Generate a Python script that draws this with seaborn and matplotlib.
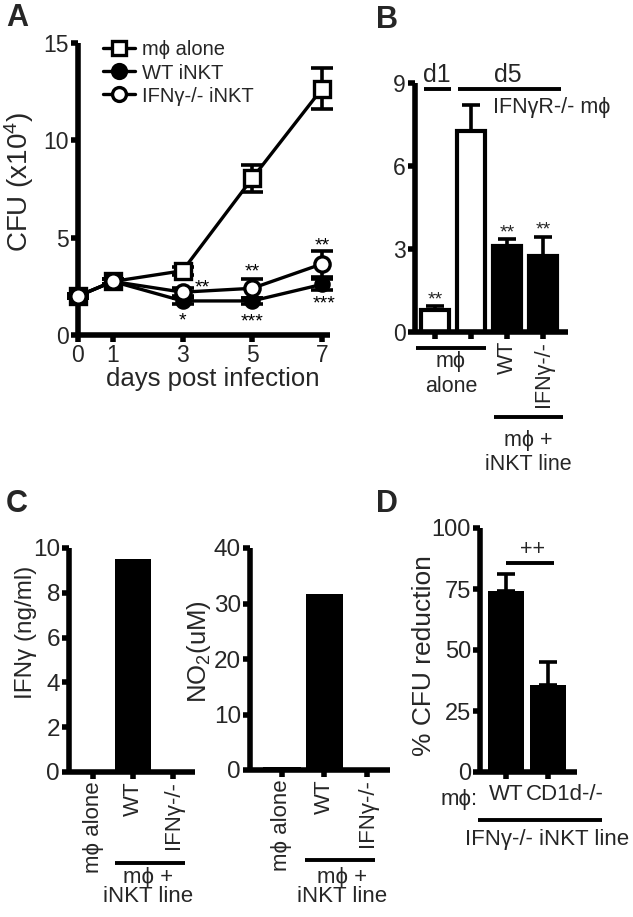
import numpy as np
import pandas as pd
import matplotlib
matplotlib.use("Agg")
import matplotlib.pyplot as plt
import seaborn as sns
from matplotlib.lines import Line2D
from matplotlib.transforms import ScaledTranslation

# ---------------- data ----------------
# Panel A
days = [0, 1, 3, 5, 7]
mphi_alone = [2.0, 2.75, 3.3, 8.05, 12.65]
mphi_alone_err = [0.1, 0.15, 0.2, 0.7, 1.05]
wt_inkt = [2.0, 2.75, 1.75, 1.75, 2.6]
wt_inkt_err = [0.1, 0.15, 0.15, 0.15, 0.3]
ifng_inkt = [2.0, 2.75, 2.2, 2.4, 3.65]
ifng_inkt_err = [0.1, 0.15, 0.2, 0.5, 0.65]
a_series = ["mϕ alone", "WT iNKT", "IFNγ-/- iNKT"]

# Panel B
b_cats = ["d1 mϕ alone", "d5 mϕ alone", "WT", "IFNγ-/-"]
b_vals = [0.8, 7.25, 3.1, 2.75]
b_err = [0.15, 0.95, 0.25, 0.68]
b_ticklabels = ["", "", "WT", "IFNγ-/-"]
b_yticks = [0, 3, 6, 9]

# Panel C
c_cats = ["mϕ alone", "WT", "IFNγ-/-"]
ifng_vals = [0.0, 9.5, 0.0]
no2_vals = [0.5, 31.8, 0.3]
c1_yticks = [0, 2, 4, 6, 8, 10]
c2_yticks = [0, 10, 20, 30, 40]

# Panel D
d_cats = ["WT", "CD1d-/-"]
d_vals = [74.0, 35.5]
d_err = [7.0, 9.5]
d_yticks = [0, 25, 50, 75, 100]

# ---------------- style ----------------
sns.set_style("ticks")
plt.rcParams["font.family"] = ["Liberation Sans", "DejaVu Sans"]
plt.rcParams["mathtext.default"] = "regular"

W, H = 633, 917
fig = plt.figure(figsize=(W / 100, H / 100), dpi=100)

SP = 4.0  # spine width (pt)
ELW = 2.6


def ax_px(box):
    l, t, r, b = box
    return fig.add_axes([l / W, 1 - b / H, (r - l) / W, (b - t) / H])


def ftext(x, y, s, **kw):
    kw.setdefault("ha", "center")
    kw.setdefault("va", "center")
    fig.text(x / W, 1 - y / H, s, **kw)


def fline(x0, x1, y, lw=2.8):
    fig.add_artist(Line2D([x0 / W, x1 / W], [1 - y / H, 1 - y / H], color="k", lw=lw,
                          solid_capstyle="butt"))


def style_ax(ax, fs=14):
    for s in ["top", "right"]:
        ax.spines[s].set_visible(False)
    for s in ["left", "bottom"]:
        ax.spines[s].set_linewidth(SP)
        ax.spines[s].set_color("k")
        ax.spines[s].set_capstyle("butt")
    ax.tick_params(axis="both", direction="out", width=SP, length=5, color="k",
                   labelsize=fs, pad=1.5)
    ax.set_facecolor("none")
    ax.grid(False)


def ylab(ax, box, text, fs, xc, yc):
    l, t, r, b = box
    ax.set_ylabel(text, fontsize=fs)
    ax.yaxis.label.set_va("center")
    ax.yaxis.set_label_coords((xc - l) / (r - l), (b - yc) / (b - t))


# ---------------- Panel A ----------------
boxA = (78, 43, 330, 335)
axA = ax_px(boxA)
dfA = pd.DataFrame({
    "day": days * 3,
    "cfu": mphi_alone + wt_inkt + ifng_inkt,
    "err": mphi_alone_err + wt_inkt_err + ifng_inkt_err,
    "group": [a_series[0]] * 5 + [a_series[1]] * 5 + [a_series[2]] * 5,
})
mk = {a_series[0]: ("s", "white", 11), a_series[1]: ("o", "black", 9.5),
      a_series[2]: ("o", "white", 11)}
for g in a_series:
    sub = dfA[dfA.group == g]
    axA.errorbar(sub.day, sub.cfu, yerr=sub.err, fmt="none", ecolor="k",
                 elinewidth=ELW, capsize=8, capthick=ELW, zorder=2, clip_on=False)
for i, g in enumerate(a_series):
    sub = dfA[dfA.group == g]
    m, fc, ms = mk[g]
    sns.lineplot(data=sub, x="day", y="cfu", ax=axA, color="k", lw=2.4,
                 marker=m, markersize=ms, markerfacecolor=fc, markeredgecolor="k",
                 markeredgewidth=2.4, label=g, zorder=3 + i, clip_on=False)
style_ax(axA, 16.5)
axA.set_xlim(0, 7.23)
axA.set_ylim(0, 15)
axA.set_xticks(days)
axA.set_yticks([0, 5, 10, 15])
axA.set_xlabel("days post infection", fontsize=18.5)
axA.xaxis.label.set_va("center")
axA.xaxis.set_label_coords((213 - 78) / 252, (335 - 379) / 292)
ylab(axA, boxA, "CFU (x10$^{4}$)", 20, 19, 182)
leg = axA.legend(loc="upper left", bbox_to_anchor=(0.05, 1.05), frameon=False,
                 fontsize=14.5, handlelength=1.6, handletextpad=0.35, labelspacing=0.2,
                 borderaxespad=0.2)
for h in leg.legend_handles:
    h.set_markersize(10)
# significance stars (panel A), placed at glyph centres
star_kw = dict(ha="center", va="center", fontsize=14, color="k")
for x, y, s in [(3.58, 2.67, "**"), (3.0, 0.97, "*"), (5.0, 3.49, "**"),
                (5.0, 0.92, "***"), (7.0, 4.82, "**"), (7.05, 1.85, "***")]:
    axA.text(x, y - 0.27, s, **star_kw)

# ---------------- Panel B ----------------
boxB = (415, 83, 568, 332)
axB = ax_px(boxB)
sns.barplot(x=b_cats, y=b_vals, hue=b_cats, palette=["white", "white", "black", "black"],
            edgecolor="k", linewidth=3.0, width=0.78, legend=False, ax=axB, zorder=2)
axB.errorbar(range(4), b_vals, yerr=[np.zeros(4), b_err], fmt="none", ecolor="k",
             elinewidth=ELW, capsize=6.5, capthick=ELW, zorder=3)
style_ax(axB, 16.5)
axB.set_xlim(-0.56, 3.69)
axB.set_ylim(0, 9)
axB.set_yticks(b_yticks)
axB.set_xticks(range(4))
axB.set_xticklabels(b_ticklabels, rotation=90, fontsize=15.5, va="top")
axB.set_xlabel("")
for i, yc in [(0, 1.34), (2, 3.75), (3, 3.86)]:
    axB.text(i, yc - 0.18, "**", ha="center", va="center", fontsize=14)
ftext(437, 75, "d1", fontsize=18)
fline(424, 451, 89)
ftext(508, 75, "d5", fontsize=18)
fline(458, 561, 89)
ftext(493, 107, "IFNγR-/- mϕ", ha="left", fontsize=15.5)
fline(416, 486, 348)
ftext(451, 362, "mϕ", fontsize=15.5)
ftext(451, 387, "alone", fontsize=15.5)
fline(494, 563, 417)
ftext(528, 440, "mϕ +", fontsize=15.5)
ftext(528, 464, "iNKT line", fontsize=15.5)

# ---------------- Panel C ----------------
boxC1 = (69, 548, 195, 772)
axC1 = ax_px(boxC1)
sns.barplot(x=c_cats, y=ifng_vals, color="black", edgecolor="k", linewidth=0,
            width=0.88, ax=axC1)
style_ax(axC1, 17.5)
axC1.set_xlim(-0.6, 2.55)
axC1.set_ylim(0, 10)
axC1.set_yticks(c1_yticks)
axC1.set_xticks(range(3))
axC1.set_xticklabels(c_cats, rotation=90, fontsize=16)
ylab(axC1, boxC1, "IFNγ (ng/ml)", 17.5, 26, 632)
fline(115, 185, 863)
ftext(148, 877, "mϕ +", fontsize=16)
ftext(148, 897, "iNKT line", fontsize=16)

boxC2 = (250, 548, 390, 770)
axC2 = ax_px(boxC2)
sns.barplot(x=c_cats, y=no2_vals, color="black", edgecolor="k", linewidth=0,
            width=0.88, ax=axC2)
style_ax(axC2, 17.5)
axC2.set_xlim(-0.75, 2.54)
axC2.set_ylim(0, 40)
axC2.set_yticks(c2_yticks)
axC2.set_xticks(range(3))
axC2.set_xticklabels(c_cats, rotation=90, fontsize=16)
ylab(axC2, boxC2, "NO$_2$(uM)", 18.5, 199, 652)
fline(305, 375, 860)
ftext(342, 877, "mϕ +", fontsize=16)
ftext(342, 896, "iNKT line", fontsize=16)

# ---------------- Panel D ----------------
boxD = (480, 528, 577, 772)
axD = ax_px(boxD)
sns.barplot(x=d_cats, y=d_vals, color="black", edgecolor="k", linewidth=0,
            width=0.86, ax=axD, zorder=2)
axD.errorbar(range(2), d_vals, yerr=[np.zeros(2), d_err], fmt="none", ecolor="k",
             elinewidth=ELW, capsize=6.5, capthick=ELW, zorder=3)
style_ax(axD, 17)
axD.set_xlim(-0.62, 1.69)
axD.set_ylim(0, 100)
axD.set_yticks(d_yticks)
axD.set_xticks(range(2))
axD.set_xticklabels(d_cats, fontsize=16)
axD.tick_params(axis="x", pad=4)
axD.set_xlabel("")
ylab(axD, boxD, "% CFU reduction", 19, 424, 656)
lbls = axD.get_xticklabels()
lbls[1].set_transform(lbls[1].get_transform() + ScaledTranslation(0.17, 0, fig.dpi_scale_trans))
axD.text(0.62, 91, "++", ha="center", va="center", fontsize=15.5)
fline(506, 554, 563)
ftext(459, 800, "mϕ:", fontsize=16)
fline(478, 602, 820)
ftext(547, 840, "IFNγ-/- iNKT line", fontsize=16)

# ---------------- panel letters ----------------
for x, y, s in [(17, 18, "A"), (387, 20, "B"), (17, 504, "C"), (387, 504, "D")]:
    ftext(x, y, s, fontsize=22, fontweight="bold")

fig.savefig("out.png", dpi=100)
